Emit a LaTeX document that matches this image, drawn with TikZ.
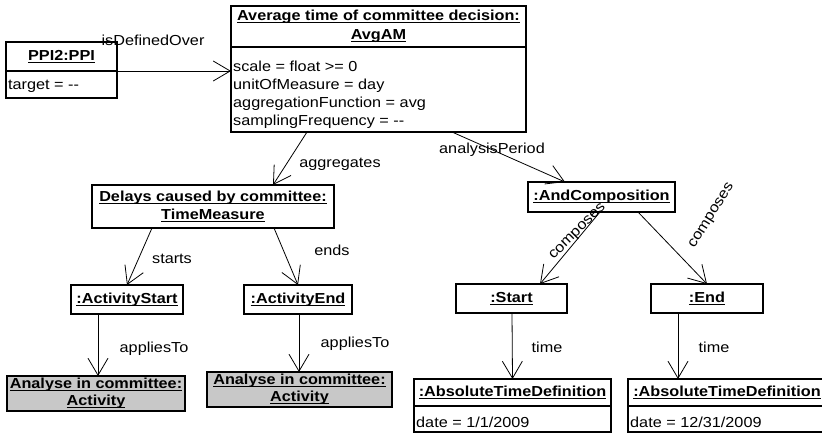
\documentclass[tikz,border=0pt]{standalone}
\usepackage{fontspec}
\setmainfont{Liberation Sans}[FakeStretch=1.12]
\usetikzlibrary{arrows.meta,calc}
\definecolor{actgray}{RGB}{200,200,200}
\newcommand\ulx[1]{\setbox0=\hbox{#1}\leavevmode\rlap{\copy0}\rule[-2.2pt]{\wd0}{0.9pt}}
\begin{document}
\begin{tikzpicture}[x=1pt,y=-1pt,
  box/.style={draw, line width=1.4pt, inner sep=0pt, outer sep=0pt,
    font=\fontsize{14.5}{18.5}\selectfont\bfseries, align=center},
  cmp/.style={draw, line width=1.4pt, inner sep=0pt, outer sep=0pt},
  act/.style={box, fill=actgray, font=\fontsize{14.5}{17}\selectfont\bfseries},
  txt/.style={inner sep=0pt, font=\fontsize{14.5}{18}\selectfont, anchor=base west},
  lbl/.style={inner sep=0pt, font=\fontsize{14.5}{18}\selectfont, anchor=base},
  rlbl/.style={inner sep=0pt, font=\fontsize{14.5}{18}\selectfont, anchor=center},
  arr/.style={line width=0.8pt, -{Straight Barb[length=17pt,width=20pt]}}
]
\useasboundingbox (0,0) rectangle (822,434);

% PPI
\node[box, minimum width=111, minimum height=29] (ppiT) at (61.5,56.5) {\ulx{PPI2:PPI}};
\node[cmp, minimum width=111, minimum height=27, anchor=north] (ppiA) at (ppiT.south) {};
\node[txt] (ppiL) at ($(ppiA.north west)+(2,18)$) {target = -{}-};

% AvgAM
\node[box, minimum width=295, minimum height=41] (avgT) at (378.5,26.5)
  {\ulx{Average time of committee decision:}\\\ulx{AvgAM}};
\node[cmp, minimum width=295, minimum height=85, anchor=north] (avgA) at (avgT.south) {};
\node[txt] (avgL1) at ($(avgA.north west)+(2,24.5)$) {scale = float >= 0};
\node[txt] (avgL2) at ($(avgA.north west)+(2,42.5)$) {unitOfMeasure = day};
\node[txt] (avgL3) at ($(avgA.north west)+(2,60.5)$) {aggregationFunction = avg};
\node[txt] (avgL4) at ($(avgA.north west)+(2,78.5)$) {samplingFrequency = -{}-};

% Left branch
\node[box, minimum width=242, minimum height=43] (dly) at (213,206.5)
  {\ulx{Delays caused by committee:}\\\ulx{TimeMeasure}};
\node[box, minimum width=112, minimum height=29] (ast) at (127,299.5) {\ulx{:ActivityStart}};
\node[box, minimum width=108, minimum height=29] (aen) at (298,299.5) {\ulx{:ActivityEnd}};
\node[act, minimum width=178, minimum height=35] (act1) at (96,393.5)
  {\ulx{Analyse in committee:}\\\ulx{Activity}};
\node[act, minimum width=185, minimum height=35] (act2) at (299.5,389.5)
  {\ulx{Analyse in committee:}\\\ulx{Activity}};

% Right branch
\node[box, minimum width=147, minimum height=30] (ac) at (601.5,197) {\ulx{:AndComposition}};
\node[box, minimum width=111, minimum height=29] (st) at (511.5,298.5) {\ulx{:Start}};
\node[box, minimum width=112, minimum height=29] (en) at (707,298.5) {\ulx{:End}};
\node[box, minimum width=197, minimum height=27] (atd1T) at (512.5,392.5) {\ulx{:AbsoluteTimeDefinition}};
\node[cmp, minimum width=197, minimum height=26, anchor=north] (atd1A) at (atd1T.south) {};
\node[txt] (atd1L) at ($(atd1A.north west)+(2,21)$) {date = 1/1/2009};
\node[box, minimum width=198, minimum height=27] (atd2T) at (727,392.5) {\ulx{:AbsoluteTimeDefinition}};
\node[cmp, minimum width=198, minimum height=26, anchor=north] (atd2A) at (atd2T.south) {};
\node[txt] (atd2L) at ($(atd2A.north west)+(2,21)$) {date = 12/31/2009};

% Connectors
\draw[arr] (ppiT.south east) -- (avgA.west |- ppiT.south east);
\draw[arr] ([xshift=-71.5pt]avgA.south) -- ([xshift=60pt]dly.north);
\draw[arr] ([xshift=73.5pt]avgA.south) -- ([xshift=-36.5pt]ac.north);
\draw[arr] ([xshift=-61pt]dly.south) -- (ast.north);
\draw[arr] ([xshift=61pt]dly.south) -- (aen.north);
\draw[arr] ([xshift=-29pt]ast.south) -- ([xshift=2pt]act1.north);
\draw[arr] ([xshift=1pt]aen.south) -- ([xshift=-0.5pt]act2.north);
\draw[arr] ([xshift=-1.5pt]ac.south) -- ([xshift=28.5pt]st.north);
\draw[arr] ([xshift=36.5pt]ac.south) -- (en.north);
\draw[arr] ([xshift=0.5pt]st.south) -- (atd1T.north);
\draw[arr] ([xshift=-29pt]en.south) -- ([xshift=-49pt]atd2T.north);

% Labels
\node[lbl] (lDef) at (153,45) {isDefinedOver};
\node[lbl] (lAgg) at (340,167) {aggregates};
\node[lbl] (lAP) at (492,153) {analysisPeriod};
\node[lbl] (lSt) at (172,263) {starts};
\node[lbl] (lEn) at (332,255) {ends};
\node[lbl] (lAp1) at (154,352) {appliesTo};
\node[lbl] (lAp2) at (355,347) {appliesTo};
\node[lbl] (lT1) at (547,352) {time};
\node[lbl] (lT2) at (714,352) {time};
\node[rlbl, rotate=45] (lC1) at (578,232) {composes};
\node[rlbl, rotate=58] (lC2) at (712,216) {composes};
\end{tikzpicture}
\end{document}
